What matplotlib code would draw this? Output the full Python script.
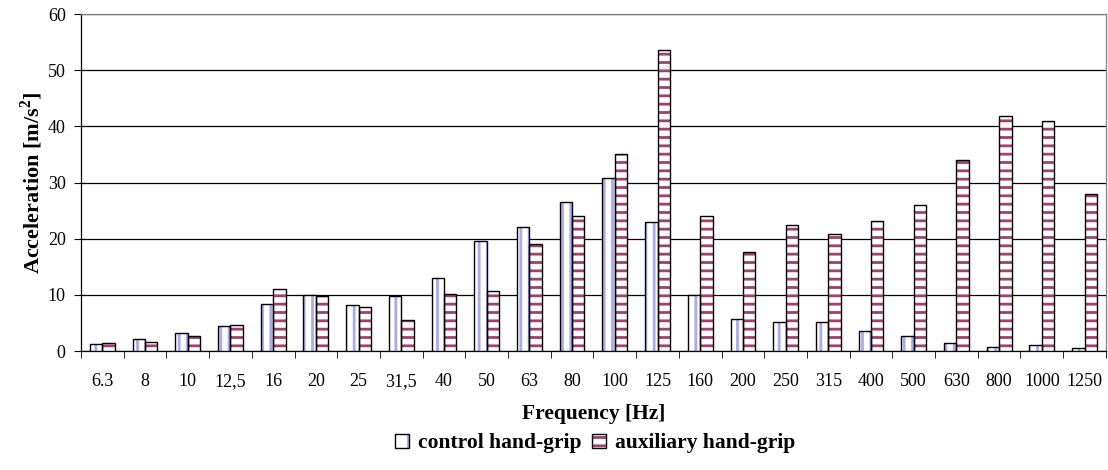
import matplotlib
matplotlib.use("Agg")
import matplotlib.pyplot as plt
import numpy as np
from matplotlib.patches import Patch, Rectangle
from matplotlib.legend_handler import HandlerBase

categories = ["6.3", "8", "10", "12,5", "16", "20", "25", "31,5", "40", "50", "63", "80",
              "100", "125", "160", "200", "250", "315", "400", "500", "630", "800", "1000", "1250"]
control = [1.2, 2.1, 3.3, 4.4, 8.4, 10.0, 8.2, 9.8, 13.0, 19.6, 22.1, 26.5,
           30.8, 23.0, 10.0, 5.7, 5.2, 5.1, 3.5, 2.7, 1.4, 0.8, 1.0, 0.5]
auxiliary = [1.4, 1.7, 2.7, 4.6, 11.1, 9.8, 7.8, 5.6, 10.1, 10.7, 19.1, 24.1,
             35.1, 53.6, 24.0, 17.7, 22.5, 20.8, 23.2, 26.0, 34.1, 41.8, 41.0, 28.0]
yticks = [0, 10, 20, 30, 40, 50, 60]

plt.rcParams['font.family'] = ['Liberation Serif', 'DejaVu Serif']
plt.rcParams['mathtext.fontset'] = 'custom'
plt.rcParams['mathtext.rm'] = 'Liberation Serif'
plt.rcParams['mathtext.bf'] = 'Liberation Serif:bold'
plt.rcParams['hatch.linewidth'] = 2.0

fig = plt.figure(figsize=(11.08, 4.70), dpi=100)
ax = fig.add_axes([0.0731, 0.253, 0.925, 0.717])

x = np.arange(len(categories))
w = 0.29
c_hatch = '#a8a8ff'
a_hatch = '#a0406e'

for vals, off, hc, h in [(control, -w / 2, c_hatch, '||'), (auxiliary, w / 2, a_hatch, '--')]:
    ax.bar(x + off, vals, w, color='white', edgecolor=hc, hatch=h, linewidth=0, zorder=3)
    ax.bar(x + off, vals, w, fill=False, edgecolor='black', linewidth=1.0, zorder=4)

ax.set_xlim(-0.5, len(categories) - 0.5)
ax.set_ylim(0, 60)
ax.set_yticks(yticks)
ax.yaxis.grid(True, color='black', linewidth=0.9, zorder=0)
ax.set_axisbelow(True)

ax.set_xticks(x)
ax.set_xticklabels(categories, fontsize=13)
ax.tick_params(axis='x', which='major', length=0, pad=16)
ax.set_xticks(np.arange(-0.5, len(categories), 1), minor=True)
ax.tick_params(axis='x', which='minor', length=5, direction='out', color='black')
ax.tick_params(axis='y', labelsize=13, length=5, direction='out', pad=6)

for s in ax.spines.values():
    s.set_color('black')
    s.set_linewidth(0.9)
ax.spines['top'].set_color('#808080')
ax.spines['right'].set_color('#808080')

ax.set_xlabel("Frequency [Hz]", fontsize=15.5, fontweight='bold', labelpad=10)
ax.set_ylabel("Acceleration [m/s$^{\\mathbf{2}}$]", fontsize=16, fontweight='bold', labelpad=2)


class H(HandlerBase):
    def __init__(self, hc, h):
        super().__init__()
        self.hc = hc
        self.h = h

    def create_artists(self, legend, orig, xd, yd, width, height, fontsize, trans):
        r1 = Rectangle((xd, yd), width, height, facecolor='white', edgecolor=self.hc,
                       hatch=self.h, linewidth=0, transform=trans)
        r2 = Rectangle((xd, yd), width, height, fill=False, edgecolor='black',
                       linewidth=1.0, transform=trans)
        return [r1, r2]


handles = [Patch(facecolor='white'), Patch(facecolor='white')]
leg = fig.legend(handles, ["control hand-grip", "auxiliary hand-grip"],
                 handler_map={handles[0]: H(c_hatch, '|'), handles[1]: H(a_hatch, '--')},
                 loc='center', bbox_to_anchor=(0.537, 0.058), ncol=2, frameon=False,
                 prop={'weight': 'bold', 'size': 15.5}, handlelength=0.65, handleheight=0.65,
                 handletextpad=0.4, columnspacing=0.5)

fig.savefig("out.png", dpi=100)
